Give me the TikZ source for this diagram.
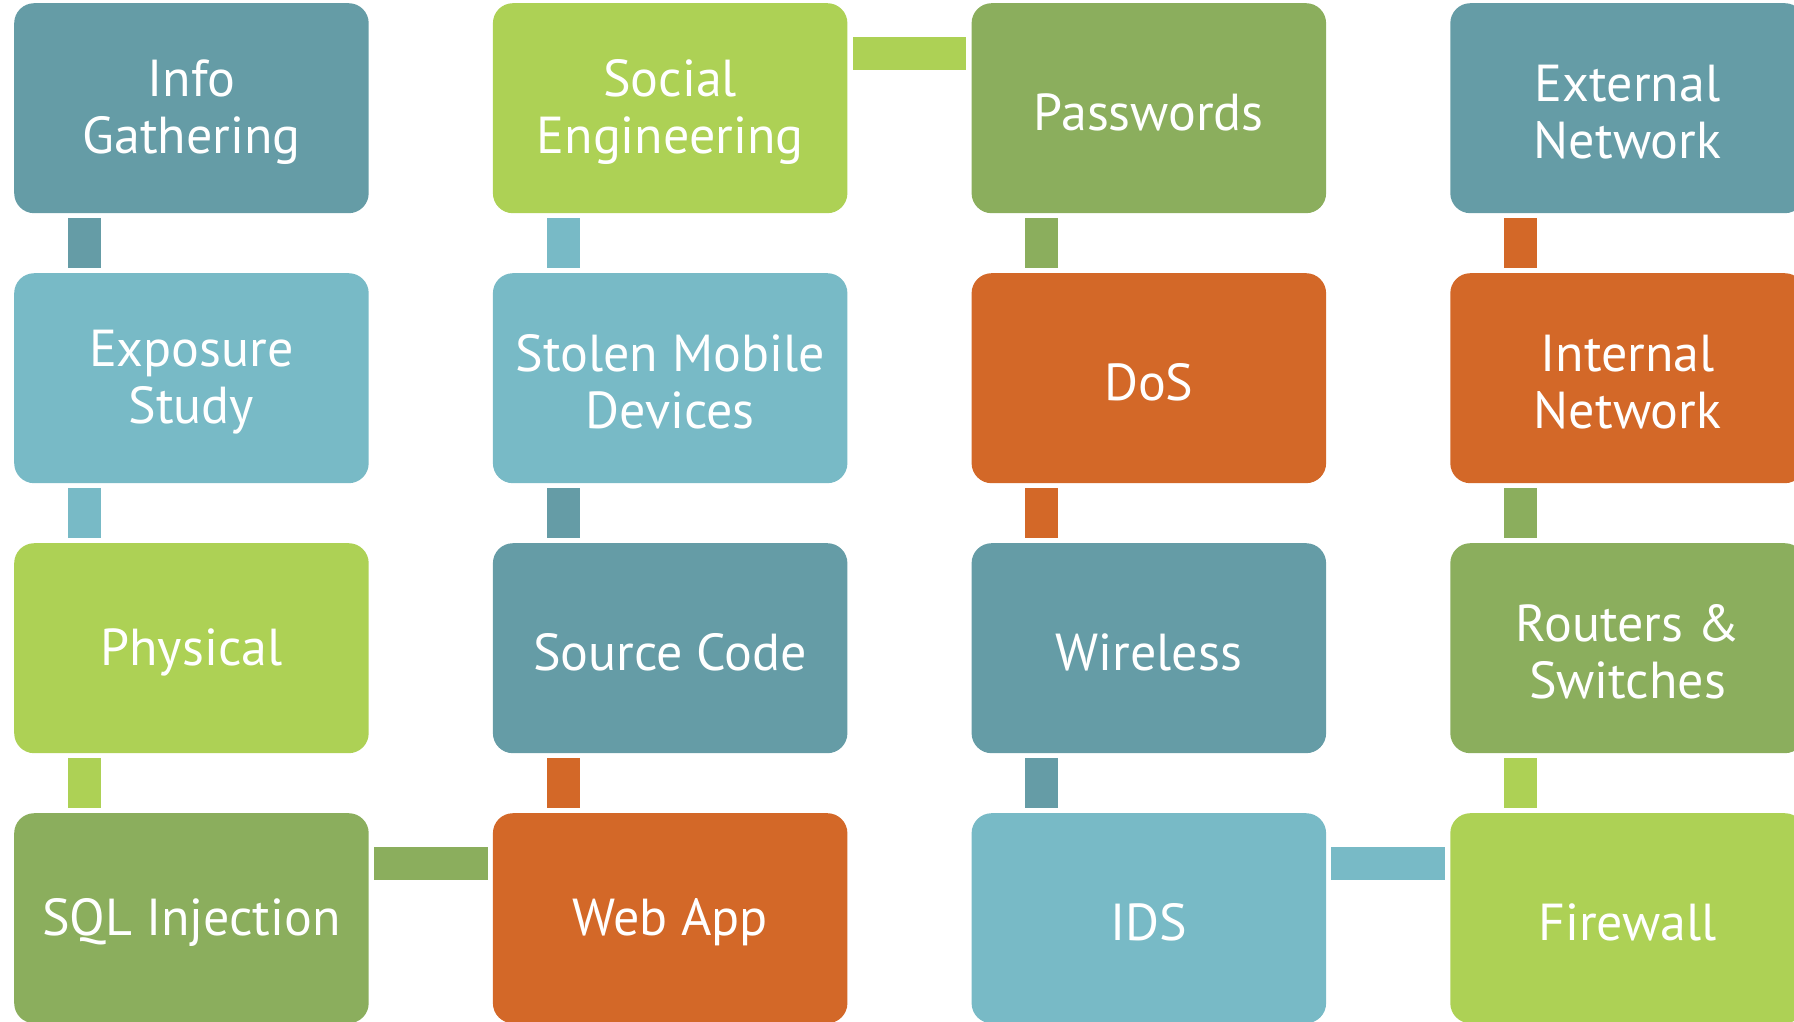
\documentclass[tikz,border=0pt]{standalone}
\usepackage{fontspec}
\setmainfont{PT Sans}
\definecolor{cTeal}{RGB}{101,156,166}
\definecolor{cSky}{RGB}{120,186,198}
\definecolor{cLime}{RGB}{173,209,85}
\definecolor{cOlive}{RGB}{139,174,93}
\definecolor{cOrange}{RGB}{211,104,40}
\tikzset{
  box/.style={rounded corners=20pt, minimum width=354.5pt, minimum height=210pt,
    inner sep=0pt, anchor=north west},
  lbl/.style={text=white, align=center, inner sep=0pt, yshift=-4pt,
    font=\fontsize{52}{57}\selectfont},
}
\newcommand{\vlink}[3]{% colour, upper box, lower box
  \fill[#1] ([xshift=54pt,yshift=-5pt]#2.south west) rectangle ([xshift=87pt,yshift=5pt]#3.north west);}
\newcommand{\hlink}[3]{% colour, left box, right box
  \fill[#1] ([xshift=5pt,yshift=-34pt]#2.north east) rectangle ([xshift=-5pt,yshift=-67pt]#3.north west);}
\begin{document}
\begin{tikzpicture}[x=1pt,y=-1pt]
\useasboundingbox (0,0) rectangle (1794,1021);
\clip (0,0) rectangle (1794,1021);
% column 1
\node[box, fill=cTeal,   label={[lbl]center:{Info\\Gathering}}]       (n11) at (14,3)   {};
\node[box, fill=cSky,    label={[lbl]center:{Exposure\\Study}}]       (n21) at (14,273) {};
\node[box, fill=cLime,   label={[lbl]center:{Physical}}]              (n31) at (14,543) {};
\node[box, fill=cOlive,  label={[lbl]center:{SQL Injection}}]         (n41) at (14,813) {};
% column 2
\node[box, fill=cLime,   label={[lbl]center:{Social\\Engineering}}]   (n12) at (492.7,3)   {};
\node[box, fill=cSky,    label={[lbl]center:{Stolen Mobile\\Devices}}] (n22) at (492.7,273) {};
\node[box, fill=cTeal,   label={[lbl]center:{Source Code}}]           (n32) at (492.7,543) {};
\node[box, fill=cOrange, label={[lbl]center:{Web App}}]               (n42) at (492.7,813) {};
% column 3
\node[box, fill=cOlive,  label={[lbl]center:{Passwords}}]             (n13) at (971.4,3)   {};
\node[box, fill=cOrange, label={[lbl]center:{DoS}}]                   (n23) at (971.4,273) {};
\node[box, fill=cTeal,   label={[lbl]center:{Wireless}}]              (n33) at (971.4,543) {};
\node[box, fill=cSky,    label={[lbl]center:{IDS}}]                   (n43) at (971.4,813) {};
% column 4
\node[box, fill=cTeal,   label={[lbl]center:{External\\Network}}]     (n14) at (1450.1,3)   {};
\node[box, fill=cOrange, label={[lbl]center:{Internal\\Network}}]     (n24) at (1450.1,273) {};
\node[box, fill=cOlive,  label={[lbl]center:{Routers \&\\Switches}}]  (n34) at (1450.1,543) {};
\node[box, fill=cLime,   label={[lbl]center:{Firewall}}]              (n44) at (1450.1,813) {};
% connectors along the snake
\vlink{cTeal}{n11}{n21}
\vlink{cSky}{n21}{n31}
\vlink{cLime}{n31}{n41}
\hlink{cOlive}{n41}{n42}
\vlink{cOrange}{n32}{n42}
\vlink{cTeal}{n22}{n32}
\vlink{cSky}{n12}{n22}
\hlink{cLime}{n12}{n13}
\vlink{cOlive}{n13}{n23}
\vlink{cOrange}{n23}{n33}
\vlink{cTeal}{n33}{n43}
\hlink{cSky}{n43}{n44}
\vlink{cLime}{n34}{n44}
\vlink{cOlive}{n24}{n34}
\vlink{cOrange}{n14}{n24}
\end{tikzpicture}
\end{document}
